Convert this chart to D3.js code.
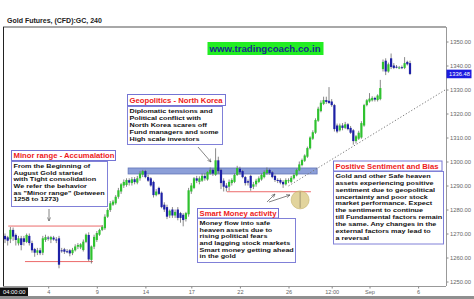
<!DOCTYPE html>
<html><head><meta charset="utf-8">
<script src="https://cdn.jsdelivr.net/npm/d3@7"></script>
<style>html,body{margin:0;padding:0;background:#fff;overflow:hidden}svg{display:block}</style>
</head><body><svg id="c" width="474" height="299"></svg>
<script>
// ---- data (4H candles, index order) ----
const opens  = [1269.0,1268.4,1267.6,1271.5,1269.4,1265.9,1268.0,1268.0,1266.5,1269.0,1266.0,1263.5,1262.0,1263.0,1262.0,1267.3,1268.3,1267.5,1268.3,1267.5,1268.0,1263.0,1263.4,1262.6,1263.0,1261.8,1263.0,1264.5,1264.2,1263.1,1266.5,1269.4,1259.0,1264.5,1267.3,1269.5,1271.5,1272.2,1277.0,1279.8,1282.0,1282.6,1285.3,1287.5,1290.0,1290.2,1292.2,1291.0,1292.6,1291.2,1293.0,1294.5,1296.0,1293.5,1293.0,1291.5,1286.0,1289.0,1287.0,1282.0,1281.0,1277.5,1280.0,1277.5,1280.0,1278.5,1277.8,1276.0,1278.0,1287.5,1289.0,1293.0,1291.5,1292.0,1294.0,1292.5,1295.0,1296.5,1294.5,1300.5,1296.5,1292.0,1290.0,1289.5,1291.0,1291.5,1294.4,1297.0,1296.0,1293.5,1291.8,1294.0,1289.5,1290.5,1291.5,1292.5,1293.5,1295.2,1296.5,1295.5,1294.0,1292.3,1292.3,1291.5,1290.5,1291.8,1291.5,1293.0,1294.2,1296.3,1298.5,1300.3,1302.0,1305.5,1309.5,1312.0,1317.0,1321.0,1324.0,1325.6,1325.3,1325.0,1323.5,1315.0,1313.0,1315.0,1314.0,1315.5,1314.0,1313.0,1308.5,1309.5,1310.0,1315.0,1323.5,1325.0,1325.5,1326.5,1325.6,1326.0,1338.5,1342.0,1337.5,1343.0,1340.0,1339.5,1339.0,1339.3,1339.0,1341.5,1341.0];
const highs  = [1270.0,1269.0,1272.7,1272.5,1270.0,1269.0,1269.0,1269.0,1270.0,1270.0,1267.0,1264.0,1264.0,1264.0,1269.0,1269.5,1269.0,1269.0,1269.0,1268.5,1269.0,1264.0,1264.0,1263.5,1263.5,1264.0,1265.5,1266.0,1266.0,1267.5,1270.0,1270.5,1265.0,1269.5,1271.0,1272.0,1273.5,1278.0,1280.5,1283.5,1284.0,1286.0,1289.0,1291.0,1292.5,1293.0,1293.0,1293.5,1293.5,1294.0,1296.0,1296.5,1296.5,1294.5,1293.5,1292.0,1288.5,1289.5,1287.5,1283.0,1282.0,1280.0,1281.0,1280.0,1281.0,1279.0,1278.5,1279.0,1289.0,1291.0,1293.5,1294.0,1293.8,1295.0,1295.0,1296.0,1297.5,1297.0,1305.5,1302.0,1297.0,1293.0,1291.0,1292.5,1293.0,1295.0,1298.2,1297.8,1296.5,1294.0,1292.5,1294.5,1291.5,1292.8,1293.8,1295.0,1296.3,1297.5,1297.0,1296.0,1294.5,1293.0,1293.0,1292.2,1293.0,1293.0,1294.0,1295.0,1297.0,1300.0,1301.2,1303.0,1306.2,1310.5,1313.0,1318.0,1322.8,1325.5,1327.0,1327.0,1331.0,1326.0,1324.0,1315.8,1315.8,1316.0,1316.5,1316.0,1314.8,1313.5,1311.0,1312.8,1316.8,1324.0,1326.0,1328.5,1327.2,1327.0,1328.0,1334.0,1342.5,1343.0,1341.2,1345.0,1341.0,1340.2,1339.8,1340.0,1343.5,1342.0,1342.0];
const lows   = [1266.0,1265.0,1266.0,1267.0,1265.0,1265.0,1263.0,1265.0,1266.0,1265.0,1262.0,1260.3,1261.0,1261.0,1261.0,1266.5,1267.0,1266.0,1267.0,1266.0,1255.5,1262.0,1261.5,1261.8,1260.5,1261.0,1262.5,1263.5,1263.5,1262.5,1266.0,1258.5,1257.5,1263.5,1266.5,1269.0,1271.0,1271.5,1276.5,1279.0,1281.5,1282.0,1284.5,1286.5,1289.0,1289.5,1290.0,1290.0,1290.5,1290.5,1292.0,1293.5,1293.0,1291.5,1289.5,1285.0,1285.5,1286.0,1280.5,1279.0,1276.0,1276.5,1276.5,1276.5,1275.5,1274.5,1273.0,1275.0,1277.0,1286.5,1288.5,1291.0,1290.5,1291.5,1292.0,1292.0,1294.5,1294.0,1294.0,1295.0,1288.5,1287.5,1287.5,1287.8,1290.0,1291.0,1294.0,1294.5,1293.0,1290.0,1290.0,1287.8,1288.5,1289.5,1291.0,1292.0,1293.0,1294.5,1294.5,1293.0,1291.5,1291.0,1290.5,1289.0,1290.0,1291.0,1291.0,1292.5,1293.8,1296.0,1298.0,1299.8,1301.5,1305.0,1309.0,1311.5,1316.5,1320.5,1323.5,1324.0,1324.0,1322.8,1312.5,1311.8,1312.5,1313.0,1313.5,1313.0,1311.5,1307.0,1307.5,1309.0,1309.5,1314.5,1323.0,1324.5,1325.0,1325.0,1325.0,1325.5,1337.5,1336.0,1337.0,1338.5,1338.5,1338.8,1338.5,1338.5,1338.5,1340.0,1336.0];
const closes = [1267.6,1267.0,1271.5,1268.7,1267.3,1268.0,1265.2,1266.5,1269.4,1266.0,1263.0,1262.0,1263.0,1261.8,1268.0,1268.5,1268.0,1268.5,1267.5,1267.4,1257.0,1262.8,1262.4,1262.4,1261.7,1263.2,1264.6,1265.2,1265.5,1266.6,1269.5,1259.2,1264.6,1268.6,1270.2,1271.5,1272.8,1277.0,1279.8,1282.6,1283.3,1285.3,1288.0,1290.5,1291.5,1292.3,1291.2,1292.6,1291.4,1293.0,1295.0,1296.0,1293.5,1292.0,1290.0,1286.0,1287.5,1286.5,1281.0,1280.0,1277.0,1279.5,1277.5,1279.0,1276.5,1276.5,1275.6,1278.5,1288.0,1290.0,1293.0,1292.0,1293.0,1294.0,1293.0,1295.6,1296.5,1295.0,1300.5,1296.0,1291.0,1289.5,1289.0,1291.5,1292.3,1294.4,1297.3,1295.5,1293.5,1291.0,1291.2,1289.0,1290.5,1292.0,1293.0,1294.4,1295.6,1296.5,1295.2,1293.5,1292.3,1292.0,1291.2,1290.5,1292.3,1292.2,1293.2,1294.4,1296.5,1298.8,1300.6,1302.5,1305.6,1310.0,1312.2,1317.3,1322.0,1324.5,1325.6,1324.8,1324.4,1323.5,1313.5,1312.5,1315.0,1314.0,1315.5,1313.5,1312.0,1308.5,1310.5,1312.0,1316.0,1323.5,1325.5,1326.2,1326.5,1325.8,1327.5,1330.6,1341.5,1337.5,1340.5,1339.4,1339.0,1339.4,1339.2,1339.0,1341.0,1340.5,1336.48];
const lastPrice = 1336.48;

const xTickIdx = [16,34,52,69,87,105,121,135,153];
const xLabels  = ["4","9","14","17","22","26","12:00","Sep","6"];
const yTicks   = [1250,1260,1270,1280,1290,1300,1310,1320,1330,1340,1350];

// annotation levels (index / price space)
const rangeLines = [{i0:1.2,i1:36.3,v:1273.1},{i0:7.4,i1:32.6,v:1258.3},{i0:82.2,i1:113.3,v:1287.4}];
const resistance = {i0:45.6,i1:115.6,lo:1294.8,hi:1297.3};
const trend = [{i:105,v:1289.8},{i:163,v:1329.8}];
const marker = {i:109.3,v:1284};

// ---- scales ----
const svg = d3.select("#c");
const x = d3.scaleLinear().domain([0,153]).range([5,418.1]);
const y = d3.scaleLinear().domain([1250,1350]).range([281.5,41.5]);
const L=3, R=446, T=27, B=286;
const FONT = "'Liberation Sans', Arial, sans-serif";

svg.append("rect").attr("x",0).attr("y",0).attr("width",474).attr("height",299).attr("fill","#fff");

// title
svg.append("text").attr("x",7).attr("y",22.5).attr("font-family",FONT).attr("font-weight","bold")
  .attr("font-size",7).attr("fill","#222").text("Gold Futures, (CFD):GC, 240");

// frame
svg.append("line").attr("x1",L).attr("x2",R).attr("y1",T).attr("y2",T).attr("stroke","#a8a8a8").attr("stroke-width",2);
svg.append("line").attr("x1",L+0.5).attr("x2",L+0.5).attr("y1",T).attr("y2",B).attr("stroke","#222").attr("stroke-width",1);
svg.append("line").attr("x1",R+0.5).attr("x2",R+0.5).attr("y1",T).attr("y2",B).attr("stroke","#999").attr("stroke-width",1);
svg.append("line").attr("x1",L).attr("x2",R).attr("y1",B+0.5).attr("y2",B+0.5).attr("stroke","#999").attr("stroke-width",1);

// y axis
const ya = svg.append("g").attr("transform",`translate(${R+0.5},0)`)
  .call(d3.axisRight(y).tickValues(yTicks).tickSize(2).tickPadding(1.5).tickFormat(d3.format(".2f")));
ya.select(".domain").remove();
ya.selectAll("line").attr("stroke","#888");
ya.selectAll("text").attr("font-family",FONT).attr("font-size",5.8).attr("fill","#666");

// x axis
const xa = svg.append("g").attr("transform",`translate(0,${B+0.5})`)
  .call(d3.axisBottom(x).tickValues(xTickIdx).tickSize(2).tickPadding(1.5).tickFormat((d,i)=>xLabels[i]));
xa.select(".domain").remove();
xa.selectAll("line").attr("stroke","#888");
xa.selectAll("text").attr("font-family",FONT).attr("font-size",5.6).attr("fill","#666");

// bottom band and time box
svg.append("rect").attr("x",0).attr("y",296).attr("width",474).attr("height",3).attr("fill","#8f8f8f");
svg.append("rect").attr("x",0).attr("y",287.5).attr("width",28).attr("height",8.5).attr("fill","#111");
svg.append("text").attr("x",3).attr("y",294.2).attr("font-family",FONT).attr("font-size",5.8).attr("fill","#fff").text("04:00:00");

// resistance band
svg.append("rect").attr("x",x(resistance.i0)).attr("y",y(resistance.hi))
  .attr("width",x(resistance.i1)-x(resistance.i0)).attr("height",y(resistance.lo)-y(resistance.hi))
  .attr("fill","#8c9fd8").attr("stroke","#6275b8").attr("stroke-width",0.8);

// range lines
svg.selectAll(".rl").data(rangeLines).enter().append("line")
  .attr("x1",d=>x(d.i0)).attr("x2",d=>x(d.i1)).attr("y1",d=>y(d.v)).attr("y2",d=>y(d.v))
  .attr("stroke","#ec6a6a").attr("stroke-width",1);

// marker circle
svg.append("circle").attr("cx",x(marker.i)).attr("cy",y(marker.v)).attr("r",9)
  .attr("fill","#d8c67c").attr("fill-opacity",0.75).attr("stroke","#c4b26a").attr("stroke-width",0.6);
svg.append("line").attr("x1",x(marker.i)).attr("x2",x(marker.i)).attr("y1",y(rangeLines[2].v)).attr("y2",y(marker.v)+8)
  .attr("stroke","#8a8060").attr("stroke-width",0.7);

// trend line
svg.append("line").attr("x1",x(trend[0].i)).attr("y1",y(trend[0].v)).attr("x2",x(trend[1].i)).attr("y2",y(trend[1].v))
  .attr("stroke","#777").attr("stroke-width",1).attr("stroke-dasharray","1.2,2");

// candles
const candles = opens.map((o,i)=>({i,o,h:highs[i],l:lows[i],c:closes[i]}));
const cg = svg.append("g");
cg.selectAll(".wick").data(candles).enter().append("line")
  .attr("x1",d=>x(d.i)).attr("x2",d=>x(d.i)).attr("y1",d=>y(d.h)).attr("y2",d=>y(d.l))
  .attr("stroke","#6a6a6a").attr("stroke-width",0.8);
cg.selectAll(".body").data(candles).enter().append("rect")
  .attr("x",d=>x(d.i)-1.1).attr("width",2.2)
  .attr("y",d=>y(Math.max(d.o,d.c)))
  .attr("height",d=>Math.max(1,Math.abs(y(d.o)-y(d.c))))
  .attr("fill",d=>d.c>=d.o?"#2fc22f":"#1d20a6");

// last price label
svg.append("rect").attr("x",R+0.5).attr("y",y(lastPrice)-4.3).attr("width",25).attr("height",8.6).attr("fill","#1c1ce0");
svg.append("text").attr("x",R+3).attr("y",y(lastPrice)+2.1).attr("font-family",FONT).attr("font-size",5.8)
  .attr("fill","#fff").text(d3.format(".2f")(lastPrice));

// website banner
svg.append("rect").attr("x",207.5).attr("y",42).attr("width",116).attr("height",13).attr("fill","#22ee22");
svg.append("text").attr("x",209.5).attr("y",52.3).attr("font-family",FONT).attr("font-weight","bold")
  .attr("font-size",9.7).attr("fill","#1a2a8c").text("www.tradingcoach.co.in");

// arrows
const defs = svg.append("defs");
defs.append("marker").attr("id","ah").attr("viewBox","0 0 10 10").attr("refX",9).attr("refY",5)
  .attr("markerWidth",5).attr("markerHeight",5).attr("orient","auto")
  .append("path").attr("d","M0,1 L9,5 L0,9").attr("fill","none").attr("stroke","#555").attr("stroke-width",1.5);
const arrows = [[49,209,49,221],[198,147,211,162],[267,202,275,194],[269,202,290,195]];
svg.selectAll(".arr").data(arrows).enter().append("line")
  .attr("x1",d=>d[0]).attr("y1",d=>d[1]).attr("x2",d=>d[2]).attr("y2",d=>d[3])
  .attr("stroke","#666").attr("stroke-width",0.8).attr("marker-end","url(#ah)");

// annotation boxes (body text drawn at a compact size, stretched to the reference width)
function box(title, tx, ty, tw, th, bx, by, bw, bh, lines, lh){
  svg.append("rect").attr("x",tx+0.5).attr("y",ty+0.5).attr("width",tw).attr("height",th)
    .attr("fill","#fff").attr("stroke","#7474d4").attr("stroke-width",1);
  svg.append("text").attr("x",tx+2.5).attr("y",ty+th-1.6).attr("font-family",FONT).attr("font-weight","bold")
    .attr("font-size",7.7).attr("fill","#ee1a1a").text(title);
  svg.append("rect").attr("x",bx+0.5).attr("y",by+0.5).attr("width",bw).attr("height",bh)
    .attr("fill","#fff").attr("stroke","#8080d8").attr("stroke-width",1);
  const fs = Math.min(5.8, lh/1.16);
  lines.forEach((t,k)=>{
    const tn = svg.append("text").attr("x",bx+2.5).attr("y",by+6.8+k*lh).attr("font-family",FONT).attr("font-weight","bold")
      .attr("font-size",7.2).attr("fill","#111").text(t);
    const w = tn.node().getComputedTextLength();
    tn.attr("font-size",fs).attr("textLength",w).attr("lengthAdjust","spacingAndGlyphs");
  });
}
box("Minor range - Accumalation",11,150,104,10,11,161,96,45,
  ["From the Beginning of","August Gold started","with Tight consolidation","We refer the behavior","as \"Minor range\" (between","1258 to 1273)"],6.7);
box("Geopolitics - North Korea",127,94,98,11,127,106,95,38,
  ["Diplomatic tensions and","Political conflict with","North Korea scares off","Fund managers and some","High scale investors"],7);
box("Smart Money activity",197,208,81,9.5,197,218,98,44,
  ["Money flow into safe","heaven assets due to","rising political fears","and lagging stock markets","Smart money getting ahead","in the gold"],6.7);
box("Positive Sentiment and Bias",333,160.5,108.5,10,333,171,110,72.5,
  ["Gold and other Safe heaven","assets experiencing positive","sentiment due to geopolitical","uncertainty and poor stock","market performance. Expect","the sentiment to continue","till Fundamental factors remain","the same. Any changes in the","external factors may lead to","a reversal"],6.9);
</script></body></html>
